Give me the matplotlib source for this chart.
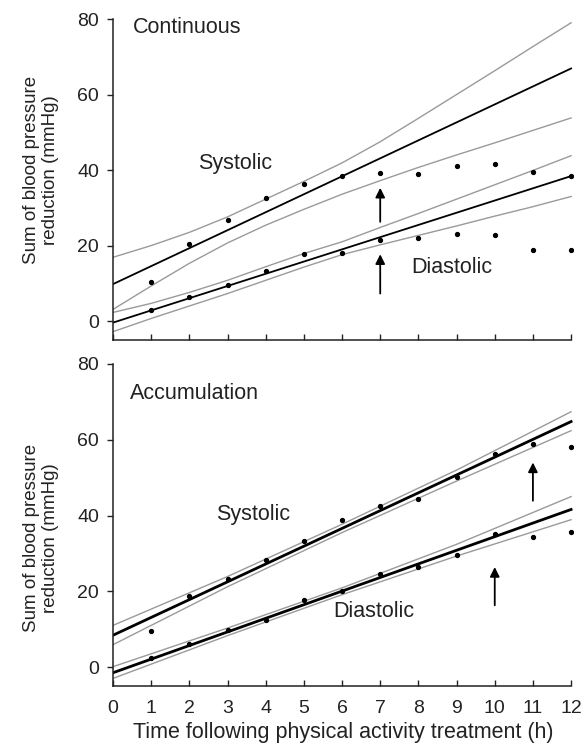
import matplotlib.pyplot as plt

plt.rcParams['font.family'] = ['Liberation Sans', 'DejaVu Sans']

hours = [0, 1, 2, 3, 4, 5, 6, 7, 8, 9, 10, 11, 12]
obs_hours = [1, 2, 3, 4, 5, 6, 7, 8, 9, 10, 11, 12]
fit_hours = [0, 12]
band_hours = [0, 3, 6, 9, 12]

# Continuous
cont_sys_obs = [10.4, 20.3, 26.7, 32.7, 36.3, 38.4, 39.2, 38.9, 41.1, 41.5, 39.4, 38.4]
cont_dia_obs = [3.0, 6.5, 9.5, 13.3, 17.8, 18.0, 21.6, 22.1, 23.2, 22.8, 18.8, 18.9]
cont_sys_fit = [9.8, 66.9]
cont_dia_fit = [-0.4, 38.4]
cont_sys_upper = [16.9, 20.0, 23.5, 27.6, 32.3, 37.0, 41.9, 47.5, 53.7, 60.0, 66.3, 72.7, 79.0]
cont_sys_lower = [3.1, 9.3, 15.3, 20.7, 25.4, 29.6, 33.6, 37.2, 40.7, 44.0, 47.2, 50.5, 53.8]
cont_dia_upper = [2.3, 4.7, 7.6, 10.8, 14.4, 17.9, 21.0, 24.8, 28.5, 32.3, 36.1, 39.9, 43.8]
cont_dia_lower = [-2.8, 0.7, 4.0, 7.3, 10.8, 14.3, 17.6, 20.2, 22.7, 25.2, 27.8, 30.3, 33.0]

# Accumulation
acc_sys_obs = [9.6, 18.7, 23.2, 28.3, 33.4, 38.9, 42.6, 44.3, 50.1, 56.3, 58.9, 58.2]
acc_dia_obs = [2.5, 6.2, 9.7, 12.3, 17.8, 20.0, 24.6, 26.4, 29.7, 35.0, 34.4, 35.6]
acc_sys_fit = [8.4, 64.8]
acc_dia_fit = [-1.5, 41.6]
acc_sys_upper = [11.0, 23.9, 37.7, 52.0, 67.4]
acc_sys_lower = [5.9, 21.2, 35.5, 49.1, 62.4]
acc_dia_upper = [0.1, 10.3, 20.9, 32.4, 45.0]
acc_dia_lower = [-3.0, 8.3, 19.1, 29.3, 38.9]

gray = '#9a9a9a'
ink = '#222222'
fs_tick = 14
fs_text = 15.5
fs_ylab = 13.5

fig = plt.figure(figsize=(5.85, 7.5), dpi=100)
ax1 = fig.add_axes([113 / 585, 1 - 340 / 750, 460 / 585, 321 / 750])
ax2 = fig.add_axes([113 / 585, 1 - 686 / 750, 460 / 585, 322 / 750])

# top panel
for band in (cont_sys_upper, cont_sys_lower, cont_dia_upper, cont_dia_lower):
    ax1.plot(hours, band, color=gray, lw=1.0)
ax1.plot(fit_hours, cont_sys_fit, color='black', lw=1.3)
ax1.plot(fit_hours, cont_dia_fit, color='black', lw=1.3)
ax1.plot(obs_hours, cont_sys_obs, 'o', color='black', ms=2.8, ls='none')
ax1.plot(obs_hours, cont_dia_obs, 'o', color='black', ms=2.8, ls='none')

# bottom panel
for band in (acc_sys_upper, acc_sys_lower, acc_dia_upper, acc_dia_lower):
    ax2.plot(band_hours, band, color=gray, lw=1.0)
ax2.plot(fit_hours, acc_sys_fit, color='black', lw=2.0)
ax2.plot(fit_hours, acc_dia_fit, color='black', lw=2.0)
ax2.plot(obs_hours, acc_sys_obs, 'o', color='black', ms=2.8, ls='none')
ax2.plot(obs_hours, acc_dia_obs, 'o', color='black', ms=2.8, ls='none')

for ax in (ax1, ax2):
    ax.set_xlim(0, 12.05)
    ax.set_ylim(-5, 80)
    ax.spines['top'].set_visible(False)
    ax.spines['right'].set_visible(False)
    for s in ('left', 'bottom'):
        ax.spines[s].set_linewidth(1.1)
        ax.spines[s].set_color(ink)
    ax.spines['left'].set_bounds(-5, 80)
    ax.spines['bottom'].set_bounds(0, 12)
    ax.set_yticks([0, 20, 40, 60, 80])
    ax.set_xticks(hours)
    ax.tick_params(axis='y', direction='out', length=4, width=1.0, pad=6,
                   labelsize=fs_tick, colors=ink)
    ax.tick_params(axis='x', direction='in', length=4, width=1.0, pad=10,
                   labelsize=fs_tick, colors=ink)

ax1.tick_params(axis='x', labelbottom=False)

arrow = dict(arrowstyle='-|>', color='black', lw=1.3, mutation_scale=14,
             shrinkA=0, shrinkB=0)
ax1.annotate('', xy=(7, 35.3), xytext=(7, 26.3), arrowprops=arrow)
ax1.annotate('', xy=(7, 17.7), xytext=(7, 7.3), arrowprops=arrow)
ax2.annotate('', xy=(11, 54.0), xytext=(11, 43.9), arrowprops=arrow)
ax2.annotate('', xy=(10, 26.4), xytext=(10, 16.3), arrowprops=arrow)

ax1.text(0.51, 77.7, 'Continuous', fontsize=fs_text, ha='left', va='center', color=ink)
ax1.text(3.19, 41.7, 'Systolic', fontsize=fs_text, ha='center', va='center', color=ink)
ax1.text(8.88, 14.2, 'Diastolic', fontsize=fs_text, ha='center', va='center', color=ink)
ax2.text(0.45, 72.2, 'Accumulation', fontsize=fs_text, ha='left', va='center', color=ink)
ax2.text(3.66, 40.4, 'Systolic', fontsize=fs_text, ha='center', va='center', color=ink)
ax2.text(6.84, 14.6, 'Diastolic', fontsize=fs_text, ha='center', va='center', color=ink)

ylab = 'Sum of blood pressure\nreduction (mmHg)'
fig.text(41 / 585, 1 - 170 / 750, ylab, rotation=90, ha='center', va='center',
         fontsize=fs_ylab, multialignment='center', color=ink)
fig.text(41 / 585, 1 - 538 / 750, ylab, rotation=90, ha='center', va='center',
         fontsize=fs_ylab, multialignment='center', color=ink)
ax2.set_xlabel('Time following physical activity treatment (h)',
               fontsize=fs_text, color=ink, labelpad=4)

fig.savefig('out.png', dpi=100)
